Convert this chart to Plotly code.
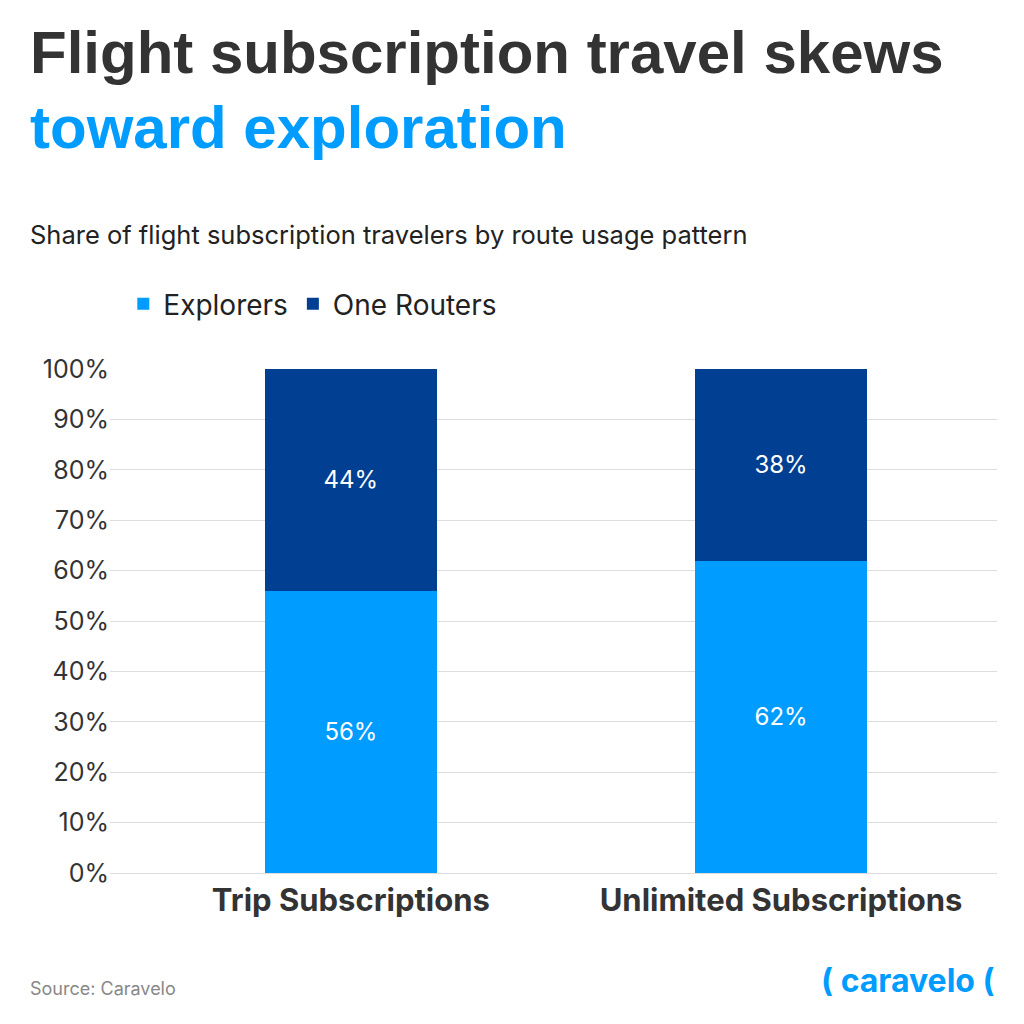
import plotly.graph_objects as go

categories = ["Trip Subscriptions", "Unlimited Subscriptions"]
explorers = [56, 62]
one_routers = [44, 38]

# page body adds ~8px offset, so plot-area pixels are compensated
L, R, T, B = 102, 35, 361, 159
PW, PH = 1024 - L - R, 1024 - T - B


def px(x, y):
    return (x - 8 - L) / PW, (1024 - B - (y - 8)) / PH


fig = go.Figure()
fig.add_trace(go.Bar(x=[0, 1], y=explorers, name="Explorers", width=0.4,
                     marker_color="#009cff", marker_line_width=0,
                     text=[f"{v}%" for v in explorers], textposition="inside",
                     insidetextanchor="middle",
                     textfont=dict(color="white", size=24, family="Inter")))
fig.add_trace(go.Bar(x=[0, 1], y=one_routers, name="One Routers", width=0.4,
                     marker_color="#003f91", marker_line_width=0,
                     text=[f"{v}%" for v in one_routers], textposition="inside",
                     insidetextanchor="middle",
                     textfont=dict(color="white", size=24, family="Inter")))

fig.update_layout(
    barmode="stack",
    width=1024, height=1024,
    margin=dict(l=L, r=R, t=T, b=B),
    plot_bgcolor="white", paper_bgcolor="white",
    font=dict(family="Inter", color="#333333"),
    showlegend=True,
    legend=dict(orientation="h", x=0.015, xanchor="left", y=1.129, yanchor="middle",
                font=dict(size=28, color="#222222"), traceorder="normal"),
    yaxis=dict(range=[0, 100], dtick=10, ticksuffix="%", gridcolor="#dddddd",
               tickfont=dict(size=25, color="#333333"), zeroline=False,
               ticks="", ticklen=0),
    xaxis=dict(range=[-0.56, 1.502], tickvals=[0, 1], ticktext=categories,
               tickfont=dict(size=31, color="#333333", family="Inter", weight="bold"),
               showline=True, linecolor="#dddddd"),
)

ann = [
    ("<b>Flight subscription travel skews</b>", 28, 52, 60, "#333333", "Liberation Sans", "left"),
    ("<b>toward exploration</b>", 28, 128, 60, "#009cff", "Liberation Sans", "left"),
    ("Share of flight subscription travelers by route usage pattern", 28, 234, 25.5, "#222222", "Inter", "left"),
    ("Source: Caravelo", 28, 988, 18, "#888888", "Inter", "left"),
    ("<b>( caravelo (</b>", 997, 980, 32, "#009cff", "Inter", "right"),
]
for text, x, y, size, color, fam, anchor in ann:
    ax, ay = px(x, y)
    fig.add_annotation(text=text, x=ax, y=ay, xref="paper", yref="paper",
                       xanchor=anchor, yanchor="middle", showarrow=False,
                       font=dict(size=size, color=color, family=fam))

fig.write_html("out.html")
